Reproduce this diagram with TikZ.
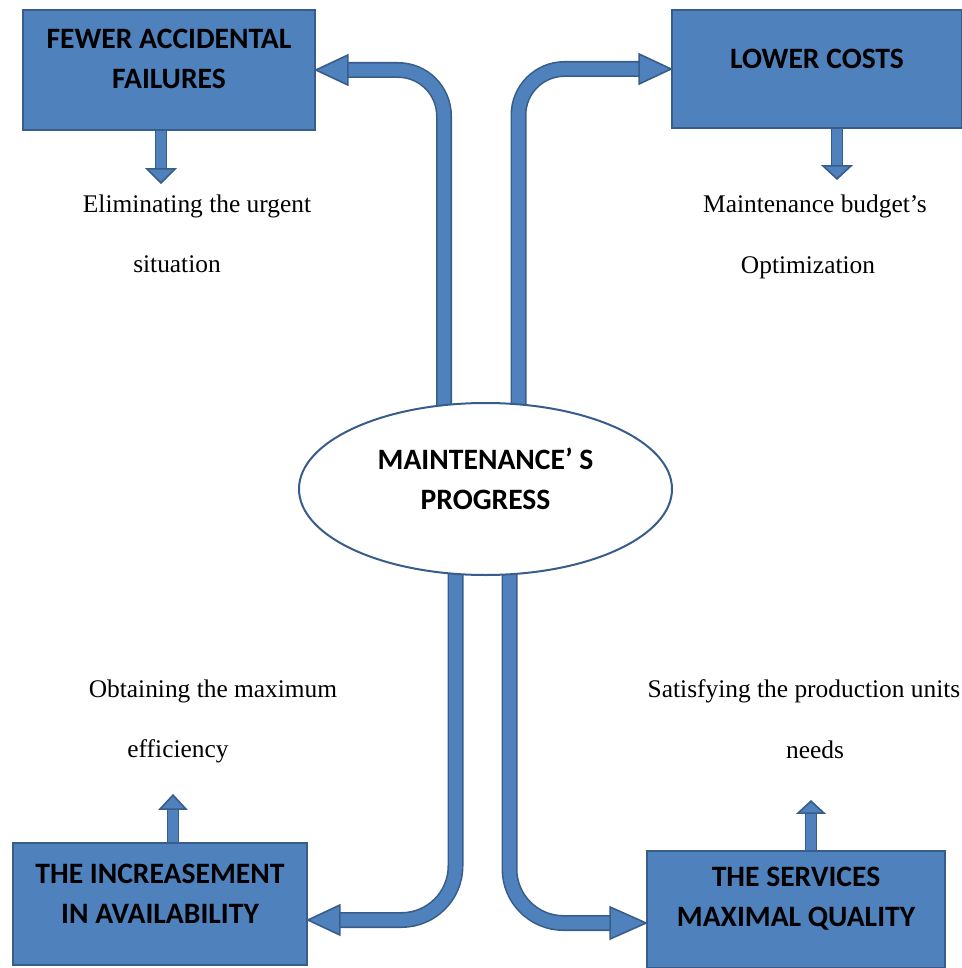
\documentclass[tikz,border=0pt]{standalone}
\usepackage{fontspec}
\setmainfont{Liberation Serif}
\newfontfamily\boxfont{Carlito}
\usetikzlibrary{calc,backgrounds,shapes.geometric}
\definecolor{boxblue}{RGB}{79,129,189}
\definecolor{edgeblue}{RGB}{56,93,138}
\newcommand{\blockhead}[4]{%
  \filldraw[fill=boxblue, draw=edgeblue, line width=.8pt, shift={(#1)}, rotate=#2]
    (0,0) -- (-#4,#3/2) -- (-#4,-#3/2) -- cycle;}

\begin{document}
\begin{tikzpicture}
  [x = .5pt, y = -.5pt,
   goalbox/.style = {draw=edgeblue, fill=boxblue, line width=.9pt, inner sep=0pt},
   goaltext/.style = {font=\boxfont\bfseries\fontsize{14.8}{20}\selectfont, align=center, yshift=5.3pt},
   note/.style = {font=\fontsize{12.7}{15}\selectfont, anchor=base, inner sep=0pt},
   shaft/.style = {draw=edgeblue, line width=.8pt, double=boxblue, double distance=6.4pt},
   thinshaft/.style = {draw=edgeblue, line width=.6pt, double=boxblue, double distance=4.8pt}]
  \useasboundingbox (0,0) rectangle (962,968);

  \node[goalbox, minimum width=146pt, minimum height=60pt,
    label={[goaltext]center:{FEWER ACCIDENTAL\\FAILURES}}] (fewer) at (169,70) {};
  \node[goalbox, minimum width=145pt, minimum height=59pt,
    label={[goaltext]center:{LOWER COSTS}}] (lower) at (817,69) {};
  \node[goalbox, minimum width=147pt, minimum height=61pt,
    label={[goaltext]center:{THE INCREASEMENT\\IN AVAILABILITY}}] (incr) at (160,904) {};
  \node[goalbox, minimum width=149pt, minimum height=58.5pt,
    label={[goaltext]center:{THE SERVICES\\MAXIMAL QUALITY}}] (serv) at (796,909.5) {};
  \node[ellipse, draw=edgeblue, fill=white, line width=1pt, inner sep=0pt,
    minimum width=186.5pt, minimum height=86pt,
    label={[goaltext]center:{MAINTENANCE’ S\\PROGRESS}}] (prog) at (485.5,489) {};

  \begin{pgfonlayer}{background}
    \draw[shaft, rounded corners=23pt] ($(prog.center)+(-41.5,0)$) |- ($(fewer.east)+(32,0)$);
    \draw[shaft, rounded corners=23pt] ($(prog.center)+(33,0)$) |- ($(lower.west)+(-32,0)$);
    \draw[shaft, rounded corners=27pt] ($(prog.center)+(-30,0)$) |- ($(incr.east)+(32,16)$);
    \draw[shaft, rounded corners=27pt] ($(prog.center)+(24,0)$) |- ($(serv.west)+(-36,13.5)$);
  \end{pgfonlayer}
  \blockhead{fewer.east}{180}{30}{32}
  \blockhead{lower.west}{0}{30}{32}
  \blockhead{$(incr.east)+(0,16)$}{180}{30}{32}
  \blockhead{$(serv.west)+(0,13.5)$}{0}{32}{36}

  \coordinate (elimtip) at ($(fewer.south)+(-8,52)$);
  \coordinate (budgettip) at ($(lower.south)+(20,50)$);
  \coordinate (obtaintip) at ($(incr.north)+(13,-47)$);
  \coordinate (satisfytip) at ($(serv.north)+(15,-49)$);
  \draw[thinshaft] ($(fewer.south)+(-8,0)$) -- ($(elimtip)+(0,-14)$);
  \draw[thinshaft] ($(lower.south)+(20,0)$) -- ($(budgettip)+(0,-13)$);
  \draw[thinshaft] ($(incr.north)+(13,0)$) -- ($(obtaintip)+(0,14)$);
  \draw[thinshaft] ($(serv.north)+(15,0)$) -- ($(satisfytip)+(0,12)$);
  \blockhead{elimtip}{-90}{28}{14}
  \blockhead{budgettip}{-90}{28}{13}
  \blockhead{obtaintip}{90}{26}{14}
  \blockhead{satisfytip}{90}{26}{12}

  \node[note] (elim1) at (197,213) {Eliminating the urgent};
  \node[note] (elim2) at (177,272) {situation};
  \node[note] (budget1) at (815,213) {Maintenance budget’s};
  \node[note] (budget2) at (808,273) {Optimization};
  \node[note] (obtain1) at (213,697) {Obtaining the maximum};
  \node[note] (obtain2) at (178,757) {efficiency};
  \node[note] (satisfy1) at (804,697) {Satisfying the production units};
  \node[note] (satisfy2) at (815,758) {needs};
\end{tikzpicture}
\end{document}
